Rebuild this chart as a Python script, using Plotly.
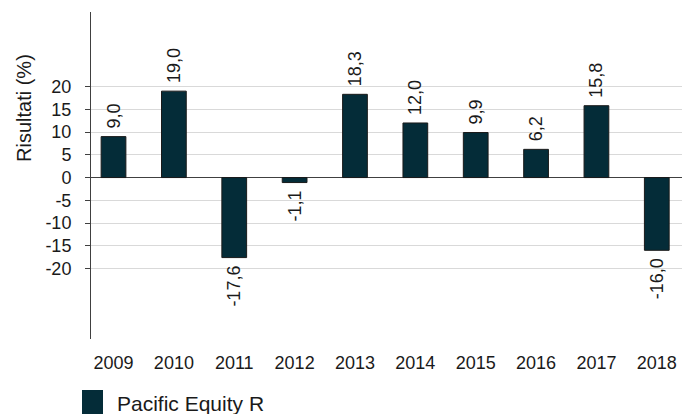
import plotly.graph_objects as go

years = ["2009", "2010", "2011", "2012", "2013", "2014", "2015", "2016", "2017", "2018"]
values = [9.0, 19.0, -17.6, -1.1, 18.3, 12.0, 9.9, 6.2, 15.8, -16.0]
series_name = "Pacific Equity R"
y_ticks = [20, 15, 10, 5, 0, -5, -10, -15, -20]
y_title = "Risultati (%)"

bar_color = "#042C38"
font_family = "Liberation Sans, Arial, sans-serif"

# Page body has an 8px margin; compensate so the plot lands where the reference has it.
OFF = 8
PL, PR, PT, PB = 91 - OFF, 690 - OFF, 12 - OFF, 339 - OFF  # plot box in figure pixels
W, H = 690, 414
pw, ph = PR - PL, PB - PT

def px_x(x):
    return (x - OFF - PL) / pw

def px_y(y):
    return (PB - (y - OFF)) / ph

nb = "\u00a0"
labels = []
for v in values:
    s = f"{v:.1f}".replace(".", ",")
    labels.append(nb + s if v >= 0 else s + nb)

fig = go.Figure()
fig.add_trace(go.Bar(
    x=years, y=values,
    name=series_name,
    marker=dict(color=bar_color, line=dict(color="#1a1a1a", width=1)),
    width=0.41,
    text=labels,
    texttemplate="%{text}",
    textposition="outside",
    textangle=-90,
    constraintext="none",
    textfont=dict(size=18, color="#1a1a1a", family=font_family),
    cliponaxis=False,
    showlegend=False,
))

fig.update_layout(
    width=W, height=H,
    margin=dict(l=PL, r=W - PR, t=PT, b=H - PB, autoexpand=False),
    plot_bgcolor="white", paper_bgcolor="white",
    font=dict(family=font_family, color="#1a1a1a"),
    separators=",.",
)
fig.update_xaxes(
    type="category",
    range=[-0.373, 9.55],
    showgrid=False, showline=False, zeroline=False,
    ticks="", tickfont=dict(size=18),
    ticklabelstandoff=11,
    automargin=False,
)
fig.update_yaxes(
    range=[-35.5, 36.4],
    tickvals=y_ticks,
    ticktext=[str(t) for t in y_ticks],
    tickfont=dict(size=18),
    showgrid=True, gridcolor="#D9D9D9", gridwidth=1,
    zeroline=True, zerolinecolor="#404040", zerolinewidth=1,
    showline=True, linecolor="#404040", linewidth=1,
    ticks="outside", ticklen=5, tickcolor="#404040",
    ticklabelstandoff=10,
    automargin=False,
)

# Y axis title
fig.add_annotation(
    xref="paper", yref="paper", x=px_x(24), y=px_y(108),
    text=y_title, textangle=-90, showarrow=False,
    font=dict(size=20), xanchor="center", yanchor="middle",
)

# Legend swatch and label
fig.add_shape(
    type="rect", xref="paper", yref="paper",
    x0=px_x(82), x1=px_x(103),
    y0=px_y(390), y1=px_y(416),
    fillcolor=bar_color, line=dict(width=0),
)
fig.add_annotation(
    xref="paper", yref="paper", x=px_x(115), y=px_y(403),
    text=series_name, showarrow=False, xanchor="left", yanchor="middle",
    font=dict(size=21),
)

fig.write_html("out.html")
